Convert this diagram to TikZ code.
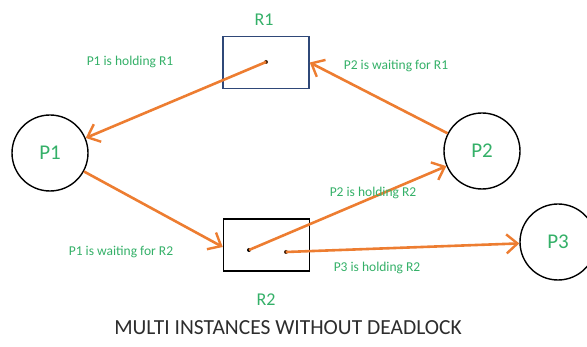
\documentclass[tikz,border=0pt]{standalone}
\usepackage{fontspec}
\setmainfont{Carlito}
\usetikzlibrary{arrows.meta}
\definecolor{edgeorange}{RGB}{237,125,49}
\definecolor{labelgreen}{RGB}{52,176,104}
\definecolor{boxblue}{RGB}{47,72,120}
\definecolor{titlegray}{RGB}{45,45,45}
\tikzset{
  proc/.style={circle, draw=black, line width=1.4pt, minimum size=76pt, inner sep=0pt,
               text=labelgreen, font=\fontsize{21}{23}\selectfont},
  res/.style={rectangle, draw, line width=1.5pt, minimum width=86pt, minimum height=52pt, inner sep=0pt},
  resname/.style={text=labelgreen, font=\fontsize{18}{20}\selectfont},
  edgelabel/.style={text=labelgreen, font=\fontsize{13.5}{15}\selectfont},
  dotpt/.style={circle, fill=black, inner sep=0pt, minimum size=4pt},
  flow/.style={draw=edgeorange, line width=2.6pt,
               -{Straight Barb[length=11pt, width=19pt, line width=2.4pt]}}
}
\begin{document}
\begin{tikzpicture}[x=1pt, y=-1pt]
  \useasboundingbox (0,0) rectangle (587,347);
  \clip (0,0) rectangle (587,347);

  % resources
  \node[res, draw=boxblue] (R1) at (266,62.5) {};
  \node[res, draw=black] (R2) at (266.5,245) {};
  \node[resname] (R1name) at (264,20) {R1};
  \node[resname] (R2name) at (266,300) {R2};

  % resource instances
  \node[dotpt, fill=black!70!edgeorange] (r1a) at (266,62) {};
  \node[dotpt] (r2a) at (249,250) {};
  \node[dotpt, fill=black!70!edgeorange] (r2b) at (286,252) {};

  % processes
  \node[proc] (P1) at (50,153) {P1};
  \node[proc] (P2) at (482,151) {P2};
  \node[proc] (P3) at (558,242) {P3};

  % request and assignment edges
  \draw[flow] (r1a.center) -- (P1);
  \draw[flow] (P2) -- (R1.east);
  \draw[flow] (P1) -- ([yshift=-2pt]R2.west);
  \draw[flow] (r2a.center) -- (P2);
  \draw[flow] (r2b.center) -- (P3);

  % edge labels
  \node[edgelabel] (l1) at (130,62) {P1 is holding R1};
  \node[edgelabel] (l2) at (396,66) {P2 is waiting for R1};
  \node[edgelabel] (l3) at (121,252) {P1 is waiting for R2};
  \node[edgelabel] (l4) at (373,193) {P2 is holding R2};
  \node[edgelabel] (l5) at (377,268) {P3 is holding R2};

  % caption
  \node[text=titlegray, font=\fontsize{21.5}{24}\selectfont] (title) at (288,328)
    {MULTI INSTANCES WITHOUT DEADLOCK};
\end{tikzpicture}
\end{document}
